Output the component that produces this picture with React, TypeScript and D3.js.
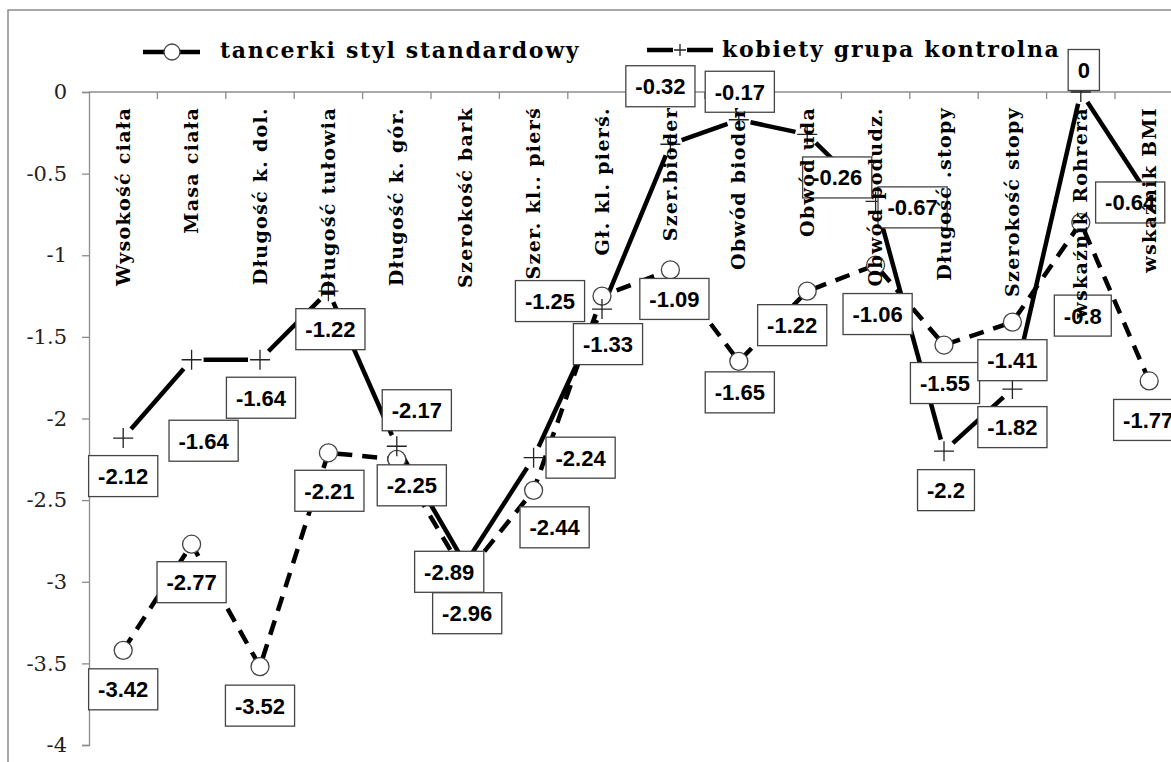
import React, { useEffect, useRef } from "react";
import * as d3 from "d3";

// categories along the x axis
const categories = [
  "Wysokość ciała",
  "Masa ciała",
  "Długość k. dol.",
  "Długość tułowia",
  "Długość k. gór.",
  "Szerokość bark",
  "Szer. kl.. pierś",
  "Gł. kl. pierś.",
  "Szer.bioder",
  "Obwód bioder",
  "Obwód uda",
  "Obwód podudz.",
  "Długość .stopy",
  "Szerokość stopy",
  "wskaźnik Rohrera",
  "wskaźnik BMI",
];

const seriesNames = ["tancerki styl standardowy", "kobiety grupa kontrolna"];

const tancerki = [-3.42, -2.77, -3.52, -2.21, -2.25, -2.96, -2.44, -1.25, -1.09, -1.65, -1.22, -1.06, -1.55, -1.41, -0.8, -1.77];
const kobiety = [-2.12, -1.64, -1.64, -1.22, -2.17, -2.89, -2.24, -1.33, -0.32, -0.17, -0.26, -0.67, -2.2, -1.82, 0, -0.64];

const yTicks = [0, -0.5, -1, -1.5, -2, -2.5, -3, -3.5, -4];

// where each data label box sits relative to its point (dx, dy), as placed by hand in the original
const tancerkiLabelShift = [
  [0, 39], [0, 38], [0, 39], [1, 38], [15, 26], [2, 38], [21, 37], [-52, 5],
  [4, 29], [1, 31], [-15, 34], [2, 49], [1, 38], [0, 38], [2, 93], [-1, 39],
];
const kobietyLabelShift = [
  [0, 38], [12, 81], [1, 38], [2, 38], [20, -36], [-16, 8], [47, 0], [6, 35],
  [-10, -58], [1, -28], [30, 43], [37, 6], [2, 39], [0, 38], [3, -22], [-19, 6],
];

const W = 1171;
const H = 762;

const App = () => {
  const svgRef = useRef<SVGSVGElement>(null);

  useEffect(() => {
    document.body.style.margin = "0";
    const svg = d3.select(svgRef.current);
    svg.selectAll("*").remove();

    const left = 89;
    const step = 68.4;
    const x = d3
      .scaleBand<string>()
      .domain(categories)
      .range([left, left + step * categories.length])
      .padding(0);
    const y = d3.scaleLinear().domain([-4, 0]).range([745, 92]);
    const cx = (i: number) => (x(categories[i]) as number) + x.bandwidth() / 2;

    const axisColor = "#8c8c8c";
    const serif = "'DejaVu Serif', 'Liberation Serif', serif";

    // chart frame
    svg
      .append("rect")
      .attr("x", 8)
      .attr("y", 10)
      .attr("width", W)
      .attr("height", H)
      .attr("fill", "white")
      .attr("stroke", axisColor)
      .attr("stroke-width", 1.5);

    // category axis along y = 0
    const gx = svg.append("g");
    gx.append("line")
      .attr("x1", left)
      .attr("x2", W)
      .attr("y1", y(0))
      .attr("y2", y(0))
      .attr("stroke", axisColor)
      .attr("stroke-width", 1.3);
    gx.selectAll("line.tick")
      .data(categories.slice(1))
      .join("line")
      .attr("class", "tick")
      .attr("x1", (d) => x(d) as number)
      .attr("x2", (d) => x(d) as number)
      .attr("y1", y(0))
      .attr("y2", y(0) + 7)
      .attr("stroke", axisColor)
      .attr("stroke-width", 1.3);

    // value axis
    const gy = svg
      .append("g")
      .attr("transform", `translate(${left},0)`)
      .call(
        d3
          .axisLeft(y)
          .tickValues(yTicks)
          .tickSize(7)
          .tickPadding(15)
          .tickFormat((d) => String(d))
      );
    gy.select(".domain").attr("stroke", axisColor).attr("stroke-width", 1.3);
    gy.selectAll(".tick line").attr("stroke", axisColor).attr("stroke-width", 1.3);
    gy.selectAll(".tick text")
      .attr("font-family", serif)
      .attr("font-size", 21)
      .attr("fill", "#222");

    const pts1 = tancerki.map((v, i) => [cx(i), y(v)]);
    const pts2 = kobiety.map((v, i) => [cx(i), y(v)]);

    // dashed series
    svg
      .append("path")
      .attr("d", d3.line()(pts1 as [number, number][]))
      .attr("fill", "none")
      .attr("stroke", "#000")
      .attr("stroke-width", 4.5)
      .attr("stroke-dasharray", "15,10");

    // solid series, broken around each marker
    const gap = 12;
    const segs = d3.pairs(pts2).map(([a, b]) => {
      const dx = b[0] - a[0];
      const dy = b[1] - a[1];
      const len = Math.hypot(dx, dy);
      const ux = dx / len;
      const uy = dy / len;
      return [a[0] + ux * gap, a[1] + uy * gap, b[0] - ux * gap, b[1] - uy * gap];
    });
    svg
      .append("g")
      .selectAll("line")
      .data(segs)
      .join("line")
      .attr("x1", (d) => d[0])
      .attr("y1", (d) => d[1])
      .attr("x2", (d) => d[2])
      .attr("y2", (d) => d[3])
      .attr("stroke", "#000")
      .attr("stroke-width", 4.5);

    // markers
    svg
      .append("g")
      .selectAll("circle")
      .data(pts1)
      .join("circle")
      .attr("cx", (d) => d[0])
      .attr("cy", (d) => d[1])
      .attr("r", 9)
      .attr("fill", "white")
      .attr("stroke", "#444")
      .attr("stroke-width", 1.3);

    const plus = (s: number) => `M${-s},0H${s}M0,${-s}V${s}`;
    svg
      .append("g")
      .selectAll("path")
      .data(pts2)
      .join("path")
      .attr("transform", (d) => `translate(${d[0]},${d[1]})`)
      .attr("d", plus(10))
      .attr("stroke", "#222")
      .attr("stroke-width", 1.3);

    // data labels
    const labels = [
      ...tancerki.map((v, i) => ({ v, p: pts1[i], s: tancerkiLabelShift[i] })),
      ...kobiety.map((v, i) => ({ v, p: pts2[i], s: kobietyLabelShift[i] })),
    ];
    const gl = svg.append("g");
    labels.forEach((d) => {
      const g = gl
        .append("g")
        .attr("transform", `translate(${d.p[0] + d.s[0]},${d.p[1] + d.s[1]})`);
      const rect = g.append("rect");
      const t = g
        .append("text")
        .text(String(d.v))
        .attr("text-anchor", "middle")
        .attr("dy", "0.36em")
        .attr("font-family", "'Liberation Sans', Arial, sans-serif")
        .attr("font-weight", "bold")
        .attr("font-size", 22)
        .attr("fill", "#000");
      const w = (t.node() as SVGTextElement).getComputedTextLength() + 19;
      rect
        .attr("x", -w / 2)
        .attr("y", -20.5)
        .attr("width", w)
        .attr("height", 41)
        .attr("fill", "white")
        .attr("stroke", "#444")
        .attr("stroke-width", 1.3);
    });

    // category labels, drawn over everything else
    svg
      .append("g")
      .selectAll("text")
      .data(categories)
      .join("text")
      .attr("transform", (d, i) => `translate(${cx(i)},107) rotate(-90)`)
      .attr("text-anchor", "end")
      .attr("dy", "0.35em")
      .attr("font-family", serif)
      .attr("font-weight", "bold")
      .attr("font-size", 19)
      .attr("letter-spacing", 1.3)
      .attr("fill", "#000")
      .text((d) => d);

    // legend
    const lg = svg.append("g");
    lg.append("line")
      .attr("x1", 143)
      .attr("x2", 200)
      .attr("y1", 52)
      .attr("y2", 52)
      .attr("stroke", "#000")
      .attr("stroke-width", 4.5);
    lg.append("circle")
      .attr("cx", 172)
      .attr("cy", 52)
      .attr("r", 8)
      .attr("fill", "white")
      .attr("stroke", "#444")
      .attr("stroke-width", 1.3);
    lg.append("line")
      .attr("x1", 647)
      .attr("x2", 673)
      .attr("y1", 50)
      .attr("y2", 50)
      .attr("stroke", "#000")
      .attr("stroke-width", 4.5);
    lg.append("line")
      .attr("x1", 687)
      .attr("x2", 713)
      .attr("y1", 50)
      .attr("y2", 50)
      .attr("stroke", "#000")
      .attr("stroke-width", 4.5);
    lg.append("path")
      .attr("transform", "translate(680,50)")
      .attr("d", plus(6))
      .attr("stroke", "#222")
      .attr("stroke-width", 1.3);
    lg.selectAll("text")
      .data(seriesNames)
      .join("text")
      .attr("x", (d, i) => (i === 0 ? 220 : 722))
      .attr("y", (d, i) => (i === 0 ? 58 : 57))
      .attr("font-family", serif)
      .attr("font-weight", "bold")
      .attr("font-size", 22)
      .attr("letter-spacing", 1.7)
      .attr("fill", "#000")
      .text((d) => d);
  }, []);

  return <svg ref={svgRef} width={W} height={H} style={{ display: "block" }}></svg>;
};

export default App;
